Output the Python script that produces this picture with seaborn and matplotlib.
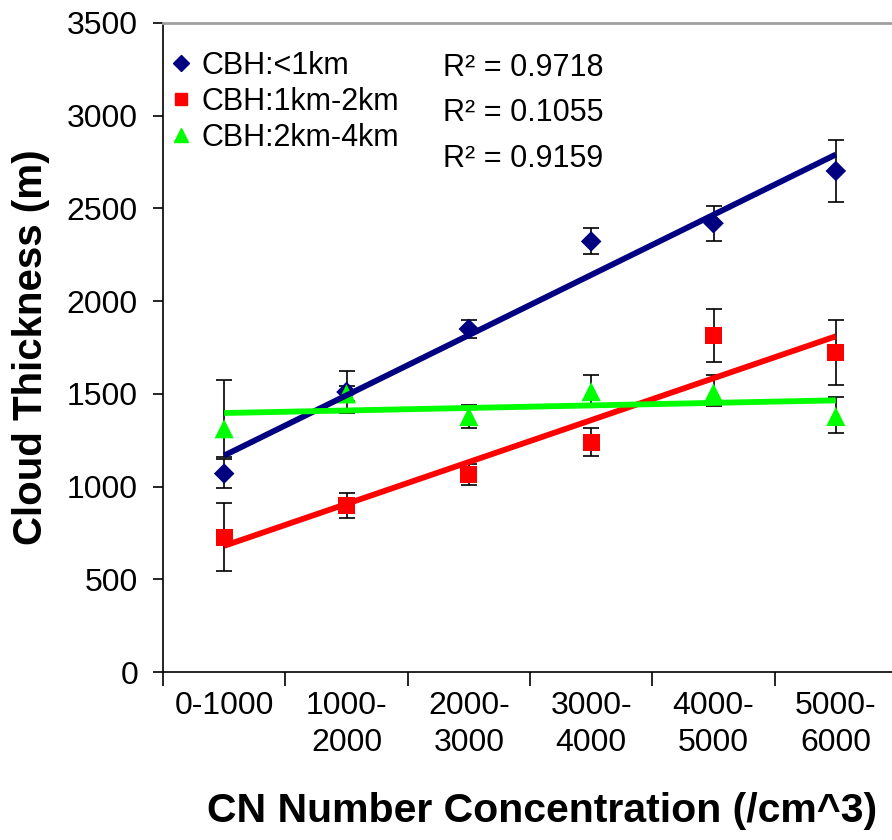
import numpy as np
import matplotlib
matplotlib.use('Agg')
import matplotlib.pyplot as plt
from matplotlib.lines import Line2D
from matplotlib.ticker import FixedLocator, NullFormatter
import seaborn as sns

categories = ['0-1000', '1000-\n2000', '2000-\n3000', '3000-\n4000', '4000-\n5000', '5000-\n6000']
series_names = ['CBH:<1km', 'CBH:1km-2km', 'CBH:2km-4km']
r2_labels = ['R\u00b2 = 0.9718', 'R\u00b2 = 0.1055', 'R\u00b2 = 0.9159']

low_cbh = [1070, 1510, 1850, 2322, 2420, 2702]
low_err = [78, 112, 48, 70, 95, 167]
mid_cbh = [727, 900, 1065, 1240, 1815, 1725]
mid_err = [185, 68, 55, 75, 143, 175]
high_cbh = [1312, 1500, 1378, 1512, 1505, 1378]
high_err_lo = [155, 40, 62, 85, 70, 90]
high_err_hi = [262, 40, 62, 90, 95, 105]

colors = ['#000080', '#ff0000', '#00ff00']
markers = ['D', 's', '^']
msizes = [110, 150, 190]

sns.set_style('ticks')
plt.rcParams['font.family'] = ['Liberation Sans', 'DejaVu Sans']
plt.rcParams['text.color'] = 'black'
plt.rcParams['axes.labelcolor'] = 'black'
plt.rcParams['xtick.color'] = 'black'
plt.rcParams['ytick.color'] = 'black'

fig = plt.figure(figsize=(8.92, 8.40), dpi=100)
ax = fig.add_axes([163 / 892, 168 / 840, 734 / 892, 649 / 840])

pos = np.arange(len(categories))
series = [low_cbh, mid_cbh, high_cbh]
errs = [low_err, mid_err, [high_err_lo, high_err_hi]]

for vals, err in zip(series, errs):
    ax.errorbar(pos, vals, yerr=err, fmt='none', ecolor='black', elinewidth=1.2,
                capsize=6, capthick=1.2, zorder=2)

for vals, c, m, s in zip(series, colors, markers, msizes):
    sns.scatterplot(x=pos, y=vals, marker=m, color=c, s=s, edgecolor='none', ax=ax, zorder=3)
    sns.regplot(x=pos, y=vals, ci=None, scatter=False, color=c, ax=ax,
                line_kws={'lw': 4.2, 'zorder': 4, 'solid_capstyle': 'butt'})

ax.set_xlim(-0.5, len(categories) - 0.5)
ax.set_ylim(0, 3500)
ax.set_yticks(np.arange(0, 3501, 500))
ax.xaxis.set_major_locator(FixedLocator(np.arange(-0.5, len(categories), 1.0)))
ax.xaxis.set_major_formatter(NullFormatter())
ax.xaxis.set_minor_locator(FixedLocator(pos))
ax.set_xticklabels(categories, minor=True)
ax.tick_params(axis='x', which='major', length=10, width=1.2, direction='out')
ax.tick_params(axis='x', which='minor', length=0, pad=14, labelsize=23)
ax.tick_params(axis='y', length=7, width=1.2, direction='out', pad=11, labelsize=23)
for lab in ax.get_xticklabels(minor=True):
    lab.set_verticalalignment('top')
    lab.set_linespacing(1.3)

ax.set_ylabel('Cloud Thickness (m)', fontsize=29, fontweight='bold', labelpad=12)
ax.set_xlabel('CN Number Concentration (/cm^3)', fontsize=29.5, fontweight='bold', labelpad=24)
ax.xaxis.label.set_x(0.517)

for side in ['left', 'bottom']:
    ax.spines[side].set_color('black')
    ax.spines[side].set_linewidth(1.2)
ax.spines['top'].set_color('#a0a0a0')
ax.spines['top'].set_linewidth(2)
ax.spines['right'].set_visible(False)

handles = [Line2D([], [], linestyle='none', marker=m, color=c, markersize=ms)
           for m, c, ms in zip(markers, colors, [8, 9, 10])]
ax.legend(handles, series_names, loc='upper left', bbox_to_anchor=(-0.025, 0.99), frameon=False,
          fontsize=22, handletextpad=0.15, labelspacing=0.2, handlelength=1.0, borderaxespad=0.3)

for i, txt in enumerate(r2_labels):
    ax.text(0.382, 0.931 - i * 0.07, txt, transform=ax.transAxes, fontsize=22,
            va='center', ha='left')

fig.savefig('out.png', dpi=100)
